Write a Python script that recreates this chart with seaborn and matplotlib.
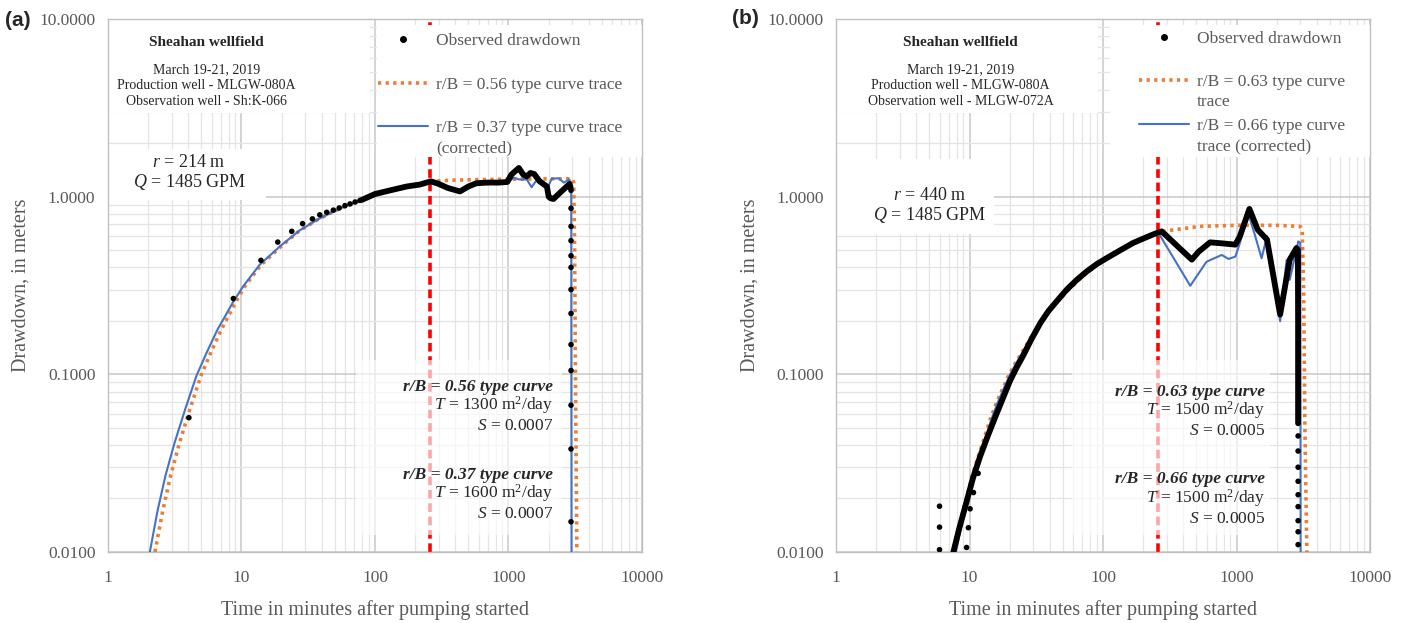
import numpy as np
import pandas as pd
import matplotlib
matplotlib.use("Agg")
import matplotlib.pyplot as plt
import seaborn as sns
from matplotlib.lines import Line2D
from matplotlib.patches import Rectangle
from matplotlib.ticker import LogLocator, FuncFormatter, NullFormatter

# ---------------- DATA: panel (a) ----------------
a_obs_sparse_t = [4.04, 8.7, 14.0, 18.7, 23.8, 28.7, 34, 38.6, 43.5, 48.8, 54, 59.6, 65, 71, 77.3]
a_obs_sparse_s = [0.057, 0.267, 0.438, 0.555, 0.638, 0.705, 0.75, 0.79, 0.816, 0.84, 0.864, 0.89, 0.91, 0.933, 0.953]
a_obs_dense_t = [80, 100, 130, 172, 217, 262, 300, 350, 433, 500, 575, 700, 850, 980, 1050, 1195, 1290,
                 1370, 1460, 1560, 1710, 1940, 2000, 2060, 2170, 2490, 2870, 2920]
a_obs_dense_s = [0.96, 1.035, 1.085, 1.14, 1.17, 1.22, 1.18, 1.12, 1.07, 1.14, 1.19, 1.2, 1.2, 1.21, 1.33, 1.45, 1.33,
                 1.30, 1.36, 1.34, 1.22, 1.14, 1.0, 0.98, 0.97, 1.07, 1.18, 1.12]
a_obs_drop_t = [2940] * 13
a_obs_drop_s = [1.085, 0.86, 0.68, 0.565, 0.465, 0.40, 0.30, 0.22, 0.147, 0.105, 0.067, 0.038, 0.0148]

a_orange_t = [2.25, 2.57, 2.95, 3.43, 4.12, 4.97, 5.9, 7.05, 9.0, 10.6, 13.9, 19.5, 27, 38, 55, 80, 110, 150, 200,
              260, 400, 700, 1200, 2000, 3000, 3080, 3130, 3180, 3250]
a_orange_s = [0.010, 0.017, 0.027, 0.041, 0.064, 0.098, 0.133, 0.178, 0.253, 0.313, 0.41, 0.52, 0.64, 0.75, 0.86,
              0.96, 1.04, 1.11, 1.17, 1.22, 1.24, 1.25, 1.255, 1.26, 1.26, 1.2, 0.5, 0.08, 0.01]

a_blue_t = [2.06, 2.35, 2.7, 3.15, 3.8, 4.6, 5.5, 6.6, 8.6, 10.3, 13.7, 19.4, 27.3, 38, 55, 80, 110, 150, 200, 260,
            300, 350, 433, 500, 575, 700, 860, 1000, 1100, 1200, 1370, 1490, 1600, 1740, 1970, 2100, 2370, 2600,
            2860, 2950, 2955, 2960, 2965]
a_blue_s = [0.010, 0.017, 0.027, 0.041, 0.064, 0.098, 0.133, 0.178, 0.253, 0.313, 0.414, 0.525, 0.646, 0.75, 0.86,
            0.96, 1.04, 1.11, 1.17, 1.21, 1.18, 1.12, 1.07, 1.14, 1.19, 1.20, 1.20, 1.21, 1.28, 1.25, 1.25, 1.13,
            1.22, 1.25, 1.12, 1.26, 1.27, 1.2, 1.25, 1.1, 0.3, 0.05, 0.01]

# ---------------- DATA: panel (b) ----------------
b_obs_dense_t = [7.57, 8.4, 9.4, 10.6, 12.0, 13.7, 15.8, 18.0, 20.1, 22.5, 25.3, 29, 34, 39, 45, 53.5, 63.5, 75,
                 90, 107, 135, 168, 210, 240, 275, 462, 520, 633, 800, 980, 1060, 1248, 1440, 1690, 2120, 2500,
                 2810, 2880, 2890, 2890]
b_obs_dense_s = [0.010, 0.0137, 0.0186, 0.026, 0.0345, 0.045, 0.059, 0.075, 0.092, 0.109, 0.128, 0.157, 0.195,
                 0.227, 0.258, 0.30, 0.34, 0.378, 0.418, 0.452, 0.50, 0.549, 0.59, 0.615, 0.638, 0.442, 0.49, 0.553,
                 0.545, 0.537, 0.60, 0.853, 0.652, 0.573, 0.217, 0.442, 0.514, 0.50, 0.2, 0.053]
b_obs_sparse_t = [9.5, 9.8, 10.1, 10.7, 11.6, 5.96, 5.96, 5.96,
                  2890, 2890, 2890, 2890, 2890, 2890, 2890, 2890, 2890]
b_obs_sparse_s = [0.0106, 0.0137, 0.0175, 0.0216, 0.0277, 0.0181, 0.0138, 0.0103,
                  0.045, 0.037, 0.030, 0.025, 0.021, 0.018, 0.015, 0.013, 0.011]

b_orange_t = [7.6, 8.3, 9.2, 10.2, 11.4, 12.8, 14.3, 15.9, 17.6, 19.7, 22.1, 26, 30, 35, 40, 47, 55, 65, 75, 90,
              107, 135, 168, 210, 260, 335, 530, 1000, 2000, 3000, 3100, 3180, 3250, 3360]
b_orange_s = [0.010, 0.0135, 0.0185, 0.025, 0.033, 0.043, 0.056, 0.069, 0.082, 0.099, 0.116, 0.142, 0.17, 0.2,
              0.228, 0.263, 0.298, 0.336, 0.37, 0.413, 0.45, 0.50, 0.548, 0.59, 0.63, 0.65, 0.68, 0.69, 0.69, 0.68,
              0.65, 0.3, 0.05, 0.01]

b_blue_t = [7.9, 8.6, 9.5, 10.5, 11.7, 13.1, 14.6, 16.2, 17.9, 20, 22.4, 26, 30, 35, 40, 47, 55, 65, 75, 90, 107,
            135, 168, 210, 260, 450, 595, 775, 870, 980, 1060, 1220, 1370, 1540, 1690, 2120, 2370, 2500, 2900,
            3000, 3010, 3020]
b_blue_s = [0.010, 0.0135, 0.0185, 0.025, 0.033, 0.043, 0.056, 0.069, 0.082, 0.099, 0.116, 0.14, 0.168, 0.2, 0.228,
            0.263, 0.298, 0.336, 0.37, 0.413, 0.45, 0.50, 0.548, 0.59, 0.625, 0.315, 0.43, 0.47, 0.446, 0.46, 0.55,
            0.81, 0.61, 0.45, 0.60, 0.199, 0.44, 0.34, 0.56, 0.55, 0.1, 0.01]

switch_time = 260

x_ticks = [1, 10, 100, 1000, 10000]
y_ticks = [0.01, 0.1, 1, 10]

panels = [
    dict(tag="(a)", obs_well="Observation well - Sh:K-066", r="214",
         labels=["Observed drawdown", "r/B = 0.56 type curve trace", "r/B = 0.37 type curve trace"],
         cont=[None, None, "(corrected)"],
         ann=[("r/B = 0.56 type curve", "1300", "0.0007"), ("r/B = 0.37 type curve", "1600", "0.0007")]),
    dict(tag="(b)", obs_well="Observation well - MLGW-072A", r="440",
         labels=["Observed drawdown", "r/B = 0.63 type curve", "r/B = 0.66 type curve"],
         cont=[None, "trace", "trace (corrected)"],
         ann=[("r/B = 0.63 type curve", "1500", "0.0005"), ("r/B = 0.66 type curve", "1500", "0.0005")]),
]

# ---------------- STYLE ----------------
sns.set_theme(style="white")
plt.rcParams['font.family'] = ['Liberation Serif', 'DejaVu Serif']
plt.rcParams['mathtext.fontset'] = 'custom'
plt.rcParams['mathtext.rm'] = 'Liberation Serif'
plt.rcParams['mathtext.it'] = 'Liberation Serif:italic'
plt.rcParams['mathtext.bf'] = 'Liberation Serif:bold'

ORANGE = "#ED7D31"
BLUE = "#4472C4"
GRAY_TXT = "#595959"
LEG_FS = 12.5

fig = plt.figure(figsize=(14.11, 6.23), dpi=100)
ax_a = fig.add_axes([0.0765, 0.114, 0.3785, 0.8555])
ax_b = fig.add_axes([0.5925, 0.114, 0.3785, 0.8555])

def style_axes(ax):
    ax.set_xscale("log")
    ax.set_yscale("log")
    ax.set_xlim(1, 10000)
    ax.set_ylim(0.01, 10)
    ax.set_xticks(x_ticks)
    ax.set_yticks(y_ticks)
    ax.xaxis.set_minor_locator(LogLocator(base=10, subs=np.arange(2, 10), numticks=50))
    ax.yaxis.set_minor_locator(LogLocator(base=10, subs=np.arange(2, 10), numticks=50))
    ax.xaxis.set_major_formatter(FuncFormatter(lambda v, p: f"{v:.0f}"))
    ax.yaxis.set_major_formatter(FuncFormatter(lambda v, p: f"{v:.4f}"))
    ax.xaxis.set_minor_formatter(NullFormatter())
    ax.yaxis.set_minor_formatter(NullFormatter())
    ax.set_axisbelow(True)
    ax.grid(which="major", color="#c8c8c8", lw=1.1)
    ax.grid(which="minor", color="#e4e4e4", lw=0.9)
    ax.tick_params(which="both", length=0)
    ax.tick_params(axis="x", pad=13, labelsize=12.5, labelcolor=GRAY_TXT)
    ax.tick_params(axis="y", pad=9, labelsize=12.5, labelcolor=GRAY_TXT)
    for sp in ax.spines.values():
        sp.set_color("#bfbfbf")
        sp.set_linewidth(1.0)
    ax.set_xlabel("Time in minutes after pumping started", fontsize=14.5, color=GRAY_TXT, labelpad=10)
    ax.set_ylabel("Drawdown, in meters", fontsize=14.5, color=GRAY_TXT, labelpad=6)

def box(ax, x0, y0, x1, y1, alpha=1.0):
    ax.add_patch(Rectangle((x0, y0), x1 - x0, y1 - y0, transform=ax.transAxes,
                           facecolor="white", edgecolor="none", alpha=alpha, zorder=1.2))

legends = []

def draw(ax, p, sparse_t, sparse_s, dense_t, dense_s, drop_t, drop_s,
         or_t, or_s, bl_t, bl_s, title_x, rq_xy, leg_xy, ann_right, layout):
    style_axes(ax)
    ax.axvline(switch_time, color="#ff0000", lw=2.6, linestyle=(0, (2.4, 1.3)), zorder=1.0)

    # white label boxes
    box(ax, 0.0, layout["title_bot"], layout["title_right"], 0.998)
    box(ax, layout["leg_left"], 0.741, 1.0, 0.989)
    box(ax, 0.0, layout["rq_bot"], layout["rq_right"], layout["rq_top"])
    box(ax, layout["ann_left"], 0.032, layout["ann_right"], 0.36, alpha=0.65)

    sns.lineplot(x=or_t, y=or_s, ax=ax, color=ORANGE, lw=2.6, sort=False, estimator=None,
                 linestyle=(0, (0.9, 1.2)), legend=False, zorder=3)
    sns.lineplot(x=bl_t, y=bl_s, ax=ax, color=BLUE, lw=1.5, sort=False, estimator=None,
                 legend=False, zorder=4)
    sns.lineplot(x=dense_t, y=dense_s, ax=ax, color="black", lw=4.2, sort=False, estimator=None,
                 legend=False, zorder=5)
    sns.scatterplot(x=sparse_t, y=sparse_s, ax=ax, color="black", s=16, edgecolor="none",
                    legend=False, zorder=6)
    if drop_t:
        sns.scatterplot(x=drop_t, y=drop_s, ax=ax, color="black", s=16, edgecolor="none",
                        legend=False, zorder=6)

    # title block
    ax.text(title_x, 0.956, "Sheahan wellfield", transform=ax.transAxes, ha="center", va="center",
            fontsize=11, fontweight="bold", zorder=7)
    for i, line in enumerate(["March 19-21, 2019", "Production well - MLGW-080A", p["obs_well"]]):
        ax.text(title_x, 0.904 - i * 0.029, line, transform=ax.transAxes, ha="center", va="center",
                fontsize=10, zorder=7)

    # r and Q
    ax.text(rq_xy[0], rq_xy[1], f"$r$ = {p['r']} m", transform=ax.transAxes, ha="center", va="center",
            fontsize=13, zorder=7)
    ax.text(rq_xy[0], rq_xy[1] - 0.036, "$Q$ = 1485 GPM", transform=ax.transAxes, ha="center",
            va="center", fontsize=13, zorder=7)

    # annotations
    for k, (head, T, S) in enumerate(p["ann"]):
        y0 = layout["ann_y"] - k * 0.165
        ax.text(ann_right, y0, head, transform=ax.transAxes, ha="right", va="center", fontsize=12.5,
                fontweight="bold", fontstyle="italic", zorder=7)
        ax.text(ann_right, y0 - 0.035, f"$T$ = {T} m$^2$/day", transform=ax.transAxes, ha="right",
                va="center", fontsize=12.5, zorder=7)
        ax.text(ann_right, y0 - 0.074, f"$S$ = {S}", transform=ax.transAxes, ha="right", va="center",
                fontsize=12.5, zorder=7)

    handles = [Line2D([], [], marker="o", color="black", ls="none", markersize=4),
               Line2D([], [], color=ORANGE, lw=2.6, linestyle=(0, (0.9, 1.2))),
               Line2D([], [], color=BLUE, lw=1.5)]
    leg = ax.legend(handles, p["labels"], loc="upper left", bbox_to_anchor=leg_xy,
                    frameon=False, fontsize=LEG_FS, handlelength=2.9, handletextpad=0.45,
                    labelspacing=1.58, borderaxespad=0.0)
    leg.set_zorder(8)
    for t in leg.get_texts():
        t.set_color(GRAY_TXT)
    legends.append((leg, p["cont"]))

draw(ax_a, panels[0], a_obs_sparse_t, a_obs_sparse_s, a_obs_dense_t, a_obs_dense_s, a_obs_drop_t,
     a_obs_drop_s, a_orange_t, a_orange_s, a_blue_t, a_blue_s,
     title_x=0.185, rq_xy=(0.152, 0.730), leg_xy=(0.492, 0.987), ann_right=0.834,
     layout=dict(title_bot=0.824, title_right=0.49, leg_left=0.504, rq_bot=0.66, rq_right=0.296,
                 rq_top=0.757, ann_left=0.464, ann_right=0.85, ann_y=0.310))
draw(ax_b, panels[1], b_obs_sparse_t, b_obs_sparse_s, b_obs_dense_t, b_obs_dense_s, [], [],
     b_orange_t, b_orange_s, b_blue_t, b_blue_s,
     title_x=0.233, rq_xy=(0.176, 0.668), leg_xy=(0.554, 0.991), ann_right=0.803,
     layout=dict(title_bot=0.824, title_right=0.49, leg_left=0.513, rq_bot=0.597, rq_right=0.296,
                 rq_top=0.737, ann_left=0.442, ann_right=0.813, ann_y=0.301))

fig.text(18 / 1411, 1 - 20 / 623, "(a)", fontsize=15, fontweight="bold", family="Liberation Sans",
         ha="center", va="center")
fig.text(745 / 1411, 1 - 18 / 623, "(b)", fontsize=15, fontweight="bold", family="Liberation Sans",
         ha="center", va="center")

# second lines of the legend labels, placed right under their first line
fig.canvas.draw()
renderer = fig.canvas.get_renderer()
inv = fig.transFigure.inverted()
for leg, conts in legends:
    for txt, cont in zip(leg.get_texts(), conts):
        if not cont:
            continue
        bb = txt.get_window_extent(renderer)
        xf, yf = inv.transform((bb.x0, (bb.y0 + bb.y1) / 2 - 20))
        fig.text(xf, yf, cont, fontsize=LEG_FS, color=GRAY_TXT, ha="left", va="center", zorder=9)

fig.savefig("out.png", dpi=100)
